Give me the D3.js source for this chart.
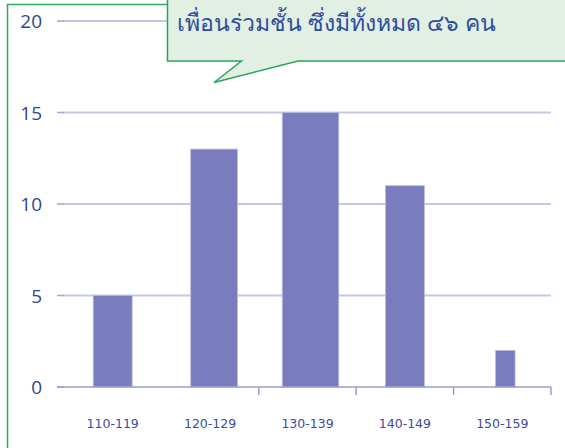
<!DOCTYPE html>
<html>
<head>
<meta charset="utf-8">
<script src="https://cdn.jsdelivr.net/npm/d3@7"></script>
<style>
  body { margin: 0; background: #fff; }
  svg { display: block; }
</style>
</head>
<body>
<div id="container"></div>
<script>
// ข้อมูล
var categories = ["110-119", "120-129", "130-139", "140-149", "150-159"];
var counts = [5, 13, 15, 11, 2];
var yTicks = [0, 5, 10, 15, 20];
var titleText = "เพื่อนร่วมชั้น ซึ่งมีทั้งหมด ๔๖ คน";

// ความกว้างแท่ง (สัดส่วนของช่อง) และการเลื่อนตามภาพต้นฉบับ
var barFrac = [0.40, 0.48, 0.58, 0.40, 0.20];
var barShift = [0, 4, 3, 0, 3];

var width = 565, height = 448;

var svg = d3.select("#container")
  .append("svg")
  .attr("width", width)
  .attr("height", height);

var xScale = d3.scaleBand()
  .domain(categories)
  .range([64, 551])
  .padding(0);

var yScale = d3.scaleLinear()
  .domain([0, 20])
  .range([387, 21]);

// กรอบสีเขียว
svg.append("path")
  .attr("d", "M7.5,450 L7.5,4.5 L168,4.5")
  .attr("fill", "none")
  .attr("stroke", "#2bae5a")
  .attr("stroke-width", 1.5);

// เส้นกริด
svg.selectAll(".grid")
  .data(yTicks.filter(function(d) { return d > 0 }))
  .enter().append("line")
  .attr("class", "grid")
  .attr("x1", 63)
  .attr("x2", 551)
  .attr("y1", function(d) { return yScale(d) })
  .attr("y2", function(d) { return yScale(d) })
  .attr("stroke", "#c6c7e6")
  .attr("stroke-width", 2);

svg.selectAll(".ytick")
  .data(yTicks)
  .enter().append("line")
  .attr("class", "ytick")
  .attr("x1", 57)
  .attr("x2", 64)
  .attr("y1", function(d) { return yScale(d) })
  .attr("y2", function(d) { return yScale(d) })
  .attr("stroke", "#a3a5d2")
  .attr("stroke-width", 1.5);

svg.selectAll(".ylabel")
  .data(yTicks)
  .enter().append("text")
  .attr("class", "ylabel")
  .attr("x", 42)
  .attr("y", function(d) { return yScale(d) + 7 })
  .attr("text-anchor", "end")
  .attr("font-family", "'Open Sans', sans-serif")
  .attr("font-size", 19)
  .attr("fill", "#2f4595")
  .text(function(d) { return d });

// แท่ง
svg.selectAll(".bar")
  .data(counts)
  .enter().append("rect")
  .attr("class", "bar")
  .attr("x", function(d, i) {
    var bw = xScale.bandwidth() * barFrac[i];
    return xScale(categories[i]) + xScale.bandwidth() / 2 - bw / 2 + barShift[i];
  })
  .attr("width", function(d, i) { return xScale.bandwidth() * barFrac[i] })
  .attr("y", function(d) { return yScale(d) })
  .attr("height", function(d) { return yScale(0) - yScale(d) })
  .attr("fill", "#797cbd")
  .attr("stroke", "#b9bbe0")
  .attr("stroke-width", 0.8);

// แกน x
svg.append("line")
  .attr("x1", 57)
  .attr("x2", 551)
  .attr("y1", yScale(0))
  .attr("y2", yScale(0))
  .attr("stroke", "#9a9dd0")
  .attr("stroke-width", 1.5);

svg.selectAll(".xtick")
  .data(categories.slice(2))
  .enter().append("line")
  .attr("class", "xtick")
  .attr("x1", function(d) { return xScale(d) })
  .attr("x2", function(d) { return xScale(d) })
  .attr("y1", yScale(0))
  .attr("y2", yScale(0) + 8)
  .attr("stroke", "#9a9dd0")
  .attr("stroke-width", 1.5);

svg.append("line")
  .attr("x1", 551)
  .attr("x2", 551)
  .attr("y1", yScale(0))
  .attr("y2", yScale(0) + 8)
  .attr("stroke", "#9a9dd0")
  .attr("stroke-width", 1.5);

svg.selectAll(".xlabel")
  .data(categories)
  .enter().append("text")
  .attr("class", "xlabel")
  .attr("x", function(d) { return xScale(d) + xScale.bandwidth() / 2 })
  .attr("y", 428)
  .attr("text-anchor", "middle")
  .attr("font-family", "'DejaVu Sans', sans-serif")
  .attr("font-size", 12.5)
  .attr("fill", "#3a4c9e")
  .text(function(d) { return d });

// กล่องคำพูด
svg.append("path")
  .attr("d", "M167.5,-3 L570,-3 L570,61 L298,61 L214,82.5 L241.5,61 L167.5,61 Z")
  .attr("fill", "#e1f0e3")
  .attr("stroke", "#27a55c")
  .attr("stroke-width", 1.5);

svg.append("text")
  .attr("x", 177)
  .attr("y", 31)
  .attr("font-family", "'Noto Sans', 'DejaVu Sans', sans-serif")
  .attr("font-size", 23)
  .attr("font-weight", 400)
  .attr("fill", "#2e4c9f")
  .text(titleText);
</script>
</body>
</html>
